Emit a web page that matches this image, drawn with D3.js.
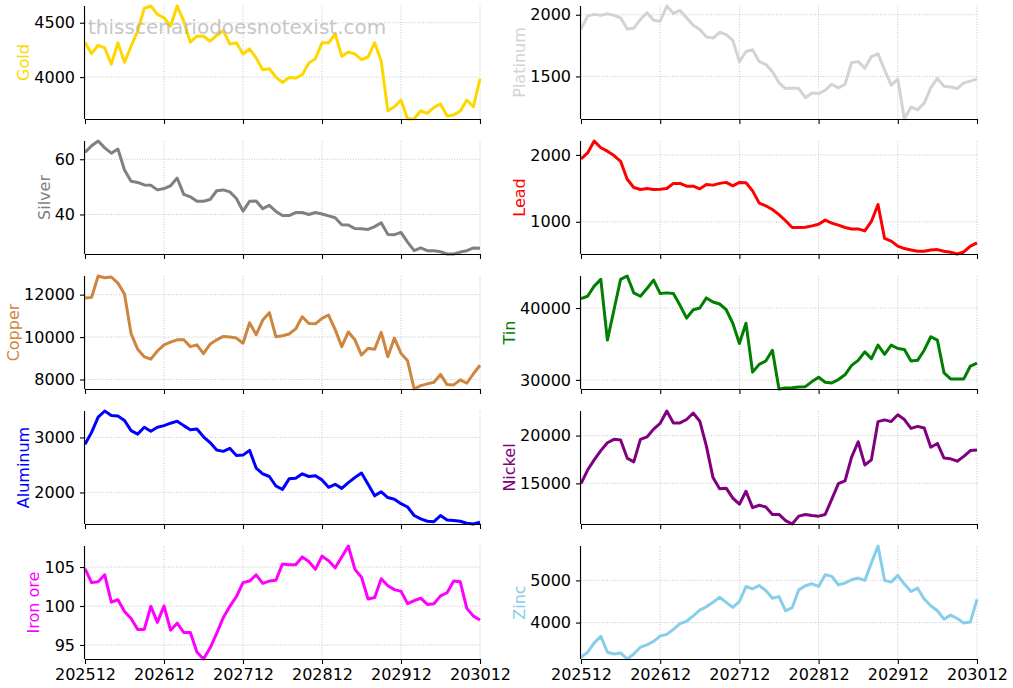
<!DOCTYPE html>
<html>
    <head>
        <style>
            body { margin: 0; background: #fff; }
            svg text { font-family: "DejaVu Sans", sans-serif; }
            .tick text { font-size: 16px; fill: #000; }
            .grid line { stroke: #b8b8b8; stroke-width: 0.8; stroke-dasharray: 1,1.6; }
        </style>
        <script src="https://d3js.org/d3.v7.min.js"></script>
    </head>
    <body>
        <svg width="1013" height="688"></svg>
        <script>
            // x tick labels, one per year (every 12th month)
            var xTickLabels = ["202512", "202612", "202712", "202812", "202912", "203012"];

            var names = ["Gold", "Platinum", "Silver", "Lead", "Copper", "Tin", "Aluminum", "Nickel", "Iron ore", "Zinc"];
            var colors = ["#ffd700", "#d3d3d3", "#808080", "#ff0000", "#cd853f", "#008000", "#0000ff", "#800080", "#ff00ff", "#87ceeb"];

            var gold = [4321,4216,4293,4268,4120,4315,4136,4284,4423,4633,4654,4577,4546,4469,4654,4515,4321,4376,4376,4330,4383,4429,4305,4315,4213,4259,4176,4068,4077,4000,3951,3997,3991,4022,4130,4170,4315,4315,4398,4191,4231,4213,4160,4185,4315,4145,3691,3728,3790,3615,3618,3691,3667,3722,3753,3642,3651,3688,3790,3728,3985];
            var platinum = [1885,1989,2003,1995,2008,1995,1975,1885,1891,1962,2016,1956,1948,2071,2011,2035,1975,1915,1880,1820,1811,1858,1839,1792,1620,1702,1716,1620,1598,1538,1448,1402,1407,1402,1328,1366,1361,1388,1437,1407,1437,1612,1620,1566,1661,1683,1552,1429,1478,1155,1251,1230,1284,1410,1484,1421,1415,1402,1448,1462,1478];
            var silver = [62.5,64.9,66.6,64.1,62.2,63.7,56.1,52.0,51.6,50.7,50.6,48.9,49.4,50.4,53.2,47.3,46.4,44.8,44.8,45.4,48.6,48.9,48.2,45.8,41.2,44.8,44.9,42.1,43.3,41.1,39.6,39.6,40.7,40.7,40.0,40.7,40.2,39.5,38.8,36.3,36.2,34.9,34.8,34.6,35.6,37.0,32.8,32.7,33.5,30.0,26.9,27.9,26.9,26.9,26.5,25.7,25.7,26.4,26.9,27.9,27.8];
            var lead = [1939,2030,2208,2107,2056,1990,1904,1635,1513,1482,1497,1482,1487,1497,1574,1574,1533,1533,1492,1558,1548,1574,1589,1538,1589,1584,1462,1279,1239,1183,1107,1015,914,914,919,939,964,1025,980,949,914,893,893,863,1005,1259,751,711,635,599,579,558,558,579,584,558,543,518,548,635,685];
            var copper = [11840,11872,12880,12800,12832,12544,12032,10160,9424,9072,8960,9344,9632,9760,9872,9872,9552,9632,9216,9664,9872,10032,10000,9952,9712,10672,10112,10800,11152,10016,10064,10144,10384,10960,10640,10624,10880,11040,10352,9552,10240,9872,9152,9472,9424,10224,9072,9952,9232,8880,7552,7712,7792,7872,8240,7760,7744,7984,7824,8272,8672];
            var tin = [41315,41644,43052,43991,35540,39766,43991,44461,42113,41644,42723,43897,42019,42113,42019,40376,38592,39766,40000,41409,40845,40564,39766,37888,35071,37888,31080,32160,32629,34132,28732,28873,28920,29014,29061,29765,30376,29671,29577,30047,30704,32019,32723,33897,32958,34836,33568,34836,34366,34225,32629,32723,34132,36009,35540,30986,30141,30141,30141,31925,32347];
            var aluminum = [2876,3092,3370,3481,3401,3388,3308,3123,3061,3185,3111,3185,3215,3259,3296,3215,3141,3154,3012,2907,2771,2747,2802,2673,2679,2765,2444,2339,2290,2117,2056,2247,2259,2339,2290,2302,2228,2093,2148,2074,2179,2271,2352,2148,1938,2012,1907,1877,1796,1735,1580,1519,1476,1469,1580,1500,1488,1476,1439,1426,1457];
            var nickel = [14964,16393,17464,18428,19250,19607,19536,17643,17250,19607,19857,20678,21285,22571,21321,21321,21678,22357,21500,18892,15607,14428,14500,13464,12821,14178,12464,12714,12536,11750,11750,11107,10750,11572,11750,11643,11572,11750,13357,14964,15250,17750,19357,16928,17464,21464,21643,21464,22178,21678,20750,20964,20785,18785,19178,17643,17571,17321,17821,18428,18500];
            var ironOre = [104.8,103.0,103.1,104.0,100.5,100.8,99.3,98.4,97.0,97.0,99.96,97.9,100.0,96.9,97.8,96.6,96.6,94.1,93.2,94.6,96.5,98.5,99.96,101.2,103.0,103.2,104.0,102.9,103.2,103.3,105.4,105.3,105.3,106.3,105.7,104.7,106.4,105.8,104.9,106.3,107.7,104.7,103.7,100.9,101.1,103.5,102.6,102.1,101.9,100.3,100.7,101.0,100.2,100.3,101.3,101.7,103.2,103.1,99.7,98.7,98.2];
            var zinc = [3176,3296,3520,3672,3296,3256,3280,3136,3256,3416,3472,3552,3680,3720,3840,3976,4032,4160,4296,4376,4480,4600,4480,4360,4496,4856,4800,4880,4760,4576,4616,4280,4352,4776,4872,4920,4856,5136,5096,4896,4936,5016,5056,5000,5416,5816,5000,4960,5120,4912,4736,4816,4560,4400,4280,4080,4176,4096,3992,4016,4552];

            var yTicks = [[4000,4500],[1500,2000],[40,60],[1000,2000],[8000,10000,12000],[30000,40000],[2000,3000],[15000,20000],[95,100,105],[4000,5000]];

            var series = [gold, platinum, silver, lead, copper, tin, aluminum, nickel, ironOre, zinc];

            var svg = d3.select("svg");
            var colLeft = [85, 581], colW = [395, 396];
            var rowTop = 6, rowStep = 135, panelH = 113;
            var nMonths = gold.length;

            series.forEach(function(values, k) {
                var col = k % 2, row = Math.floor(k / 2);
                var g = svg.append("g")
                    .attr("transform", "translate(" + colLeft[col] + "," + (rowTop + row * rowStep) + ")");

                var x = d3.scaleLinear().domain([0, nMonths - 1]).range([0, colW[col]]);
                var y = d3.scaleLinear().domain(d3.extent(values)).range([panelH, 0]);
                var xTickVals = xTickLabels.map(function(d, i) { return i * 12; });

                // grid
                var grid = g.append("g").attr("class", "grid");
                grid.selectAll(".gx").data(xTickVals).enter().append("line")
                    .attr("x1", x).attr("x2", x).attr("y1", 0).attr("y2", panelH);
                grid.selectAll(".gy").data(yTicks[k]).enter().append("line")
                    .attr("x1", 0).attr("x2", colW[col]).attr("y1", y).attr("y2", y);

                var line = d3.line()
                    .x(function(d, i) { return x(i); })
                    .y(function(d) { return y(d); });

                g.append("path")
                    .datum(values)
                    .attr("fill", "none")
                    .attr("stroke", colors[k])
                    .attr("stroke-width", 3)
                    .attr("stroke-linejoin", "round")
                    .attr("d", line);

                var xAxis = d3.axisBottom(x).tickValues(xTickVals).tickSize(5).tickPadding(5)
                    .tickFormat(function(d, i) { return row === 4 ? xTickLabels[i] : ""; });
                var xg = g.append("g").attr("transform", "translate(0," + panelH + ")").call(xAxis);

                var yg = g.append("g").call(d3.axisLeft(y).tickValues(yTicks[k]).tickSize(5).tickPadding(5).tickFormat(d3.format("d")));

                [xg, yg].forEach(function(a) {
                    a.selectAll("text").style("font-size", "16px").attr("font-family", "DejaVu Sans");
                    a.select(".domain").attr("stroke", "#000").attr("stroke-width", 1.1);
                    a.selectAll(".tick line").attr("stroke", "#000").attr("stroke-width", 1.1);
                });
                xg.select(".domain").attr("d", "M0,0.5H" + colW[col]);
                yg.select(".domain").attr("d", "M-0.5,0V" + panelH);

                var bb = yg.node().getBBox();
                g.append("text")
                    .attr("transform", "translate(" + (bb.x - 5) + "," + (panelH / 2) + ") rotate(-90)")
                    .attr("text-anchor", "middle")
                    .style("font-size", "16px")
                    .attr("fill", colors[k])
                    .text(names[k]);
            });

            svg.append("text")
                .attr("x", 88).attr("y", 34)
                .style("font-size", "20px")
                .attr("fill", "#b4b4b4")
                .attr("opacity", 0.75)
                .text("thisscenariodoesnotexist.com");
        </script>
    </body>
</html>
